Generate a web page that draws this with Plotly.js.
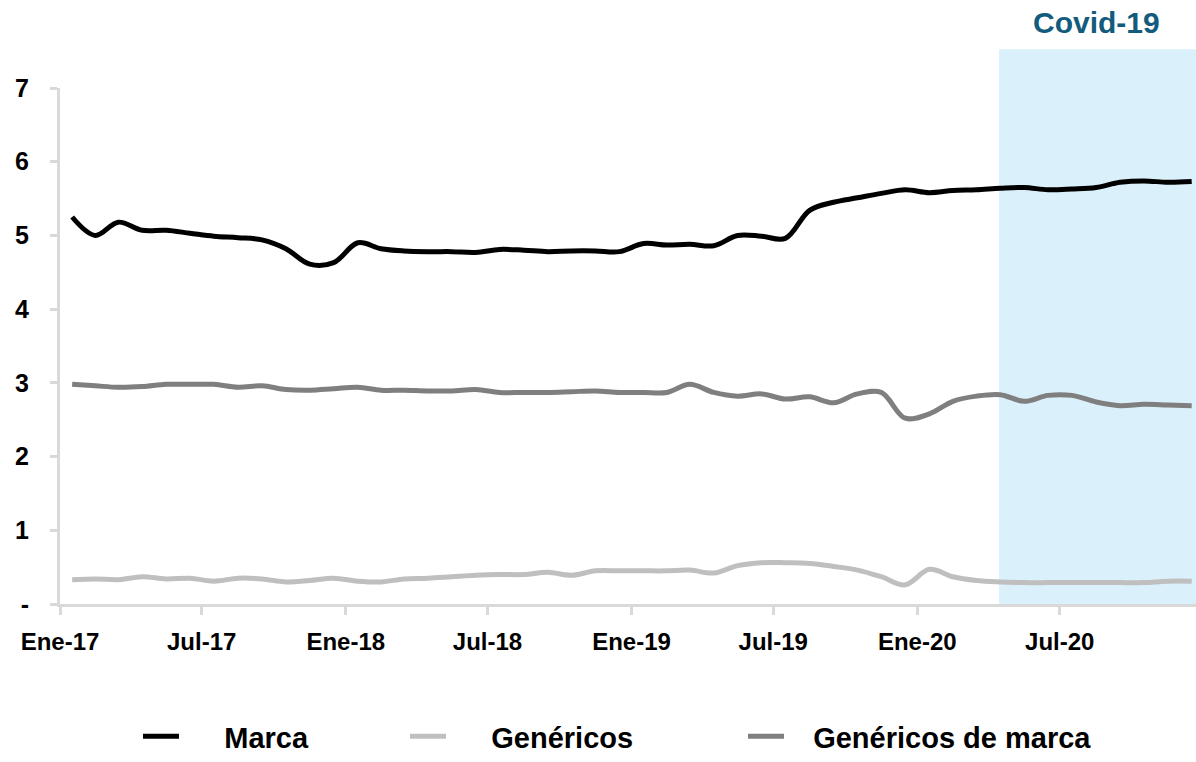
<!DOCTYPE html>
<html>
<head>
<meta charset="utf-8">
<script src="https://cdn.plot.ly/plotly-3.0.1.min.js"></script>
<style>html,body{margin:0;padding:0;background:#fff;}#chart{width:1196px;height:762px;}</style>
</head>
<body>
<div id="chart"></div>
<script>
// Months (Ene-17 .. Dic-20)
const months = [
  '2017-01','2017-02','2017-03','2017-04','2017-05','2017-06','2017-07','2017-08','2017-09','2017-10','2017-11','2017-12',
  '2018-01','2018-02','2018-03','2018-04','2018-05','2018-06','2018-07','2018-08','2018-09','2018-10','2018-11','2018-12',
  '2019-01','2019-02','2019-03','2019-04','2019-05','2019-06','2019-07','2019-08','2019-09','2019-10','2019-11','2019-12',
  '2020-01','2020-02','2020-03','2020-04','2020-05','2020-06','2020-07','2020-08','2020-09','2020-10','2020-11','2020-12'
];
const marca = [
  5.25,5.00,5.18,5.07,5.07,5.03,4.99,4.97,4.94,4.82,4.61,4.63,
  4.90,4.82,4.79,4.78,4.78,4.77,4.81,4.80,4.78,4.79,4.79,4.78,
  4.89,4.87,4.88,4.86,5.00,4.99,4.96,5.34,5.45,5.51,5.57,5.62,
  5.58,5.61,5.62,5.64,5.65,5.62,5.63,5.65,5.72,5.74,5.72,5.73
];
const genericos = [
  0.33,0.34,0.33,0.37,0.34,0.35,0.31,0.35,0.34,0.30,0.32,0.35,
  0.31,0.30,0.34,0.35,0.37,0.39,0.40,0.40,0.43,0.39,0.45,0.45,
  0.45,0.45,0.46,0.42,0.52,0.56,0.56,0.55,0.51,0.46,0.37,0.26,
  0.47,0.37,0.32,0.30,0.29,0.29,0.29,0.29,0.29,0.29,0.31,0.31
];
const genericosMarca = [
  2.98,2.96,2.94,2.95,2.98,2.98,2.98,2.94,2.96,2.91,2.90,2.92,
  2.94,2.90,2.90,2.89,2.89,2.91,2.87,2.87,2.87,2.88,2.89,2.87,
  2.87,2.87,2.98,2.87,2.82,2.85,2.78,2.81,2.73,2.85,2.87,2.52,
  2.58,2.75,2.82,2.84,2.75,2.83,2.83,2.74,2.69,2.71,2.70,2.69
];
const seriesNames = ['Marca', 'Genéricos', 'Genéricos de marca'];
const xTickVals = ['2017-01-01','2017-07-01','2018-01-01','2018-07-01','2019-01-01','2019-07-01','2020-01-01','2020-07-01'];
const xTickText = ['Ene-17','Jul-17','Ene-18','Jul-18','Ene-19','Jul-19','Ene-20','Jul-20'];
const yTickVals = [0,1,2,3,4,5,6,7];
const yTickText = ['-','1','2','3','4','5','6','7'];
const covidStart = '2020-04-14 12:00';
const covidEnd = '2021-01-01';
const covidLabel = 'Covid-19';

const FONT = '"Liberation Sans", Arial, sans-serif';
const NB = '\u00A0';
function series(name, pad, y, color, legend) {
  return {
    x: months, y: y, name: NB.repeat(pad) + name, type: 'scatter', mode: 'lines',
    xperiod: 'M1', xperiodalignment: 'middle',
    line: {color: color, width: 5, shape: 'spline', smoothing: 1},
    legend: legend, hoverinfo: 'x+y'
  };
}
const data = [
  series(seriesNames[0], 5, marca, '#000000', 'legend'),
  series(seriesNames[1], 5, genericos, '#BFBFBF', 'legend2'),
  series(seriesNames[2], 3, genericosMarca, '#7F7F7F', 'legend3')
];
const legendFont = {family: FONT, size: 29, color: '#000', weight: 'bold'};
function legendAt(px) {
  return {orientation: 'h', yanchor: 'bottom', xanchor: 'left', yref: 'container', y: -0.005,
    x: (px - 60) / 1136, itemwidth: 36,
    bgcolor: 'rgba(0,0,0,0)', borderwidth: 0, font: legendFont};
}
const layout = {
  width: 1196, height: 762,
  margin: {l: 60, r: 0, t: 88, b: 158, autoexpand: false},
  paper_bgcolor: '#ffffff', plot_bgcolor: 'rgba(0,0,0,0)',
  font: {family: FONT, color: '#000'},
  xaxis: {
    type: 'date', range: ['2017-01-01', '2020-12-22'],
    tickmode: 'array', tickvals: xTickVals, ticktext: xTickText,
    showgrid: false, zeroline: false,
    showline: true, linecolor: '#D9D9D9', linewidth: 3,
    ticks: 'outside', ticklen: 8, tickwidth: 3, tickcolor: '#D9D9D9',
    ticklabelstandoff: 6, automargin: false,
    tickfont: {family: FONT, size: 24, color: '#000', weight: 'bold'}
  },
  yaxis: {
    range: [0, 7], tickmode: 'array', tickvals: yTickVals, ticktext: yTickText,
    showgrid: false, zeroline: false,
    showline: true, linecolor: '#D9D9D9', linewidth: 3,
    ticks: 'outside', ticklen: 7, tickwidth: 3, tickcolor: '#D9D9D9',
    ticklabelstandoff: 16, automargin: false,
    tickfont: {family: FONT, size: 25, color: '#000', weight: 'bold'}
  },
  shapes: [{
    type: 'rect', layer: 'below', xref: 'x', yref: 'paper',
    x0: covidStart, x1: covidEnd, y0: 0, y1: 1.075,
    fillcolor: '#DAF1FC', line: {width: 0}
  }],
  annotations: [{
    xref: 'paper', yref: 'paper', x: (1096.5 - 60) / 1136, y: 1.0 + (88 - 22) / 516,
    xanchor: 'center', yanchor: 'middle', showarrow: false,
    text: '<b>' + covidLabel + '</b>',
    font: {family: FONT, size: 30, color: '#135B7D'}
  }],
  showlegend: true,
  legend: legendAt(138),
  legend2: legendAt(405),
  legend3: legendAt(743)
};
Plotly.newPlot('chart', data, layout, {displayModeBar: false, staticPlot: true});
</script>
</body>
</html>
